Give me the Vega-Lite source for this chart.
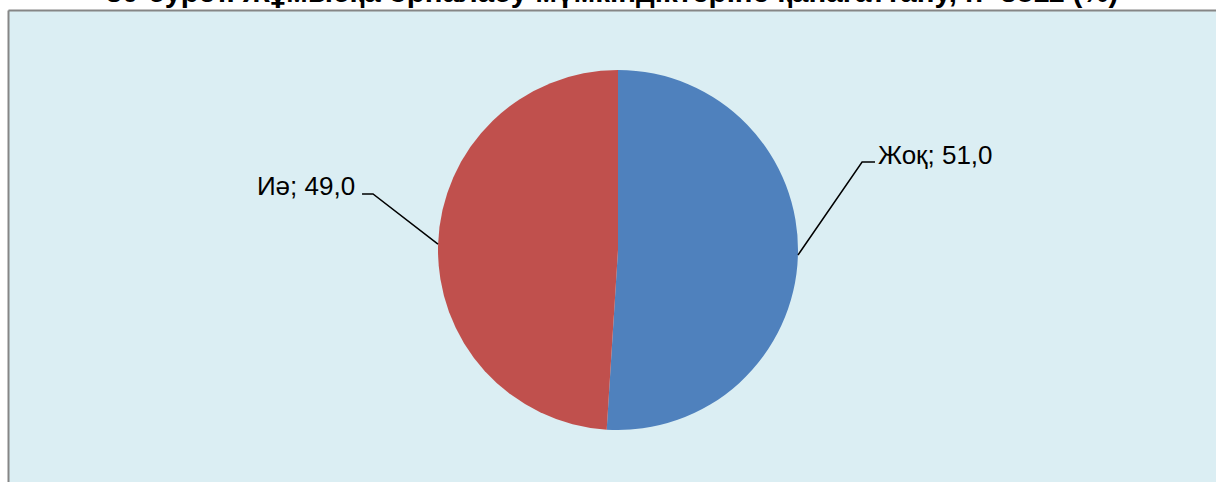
{
  "$schema": "https://vega.github.io/schema/vega-lite/v6.json",
  "width": 1208,
  "height": 472,
  "autosize": {"type": "none"},
  "padding": {"left": 8, "top": 10, "right": 0, "bottom": 0},
  "background": "white",
  "title": {
    "text": "30-сурет. Жұмысқа орналасу мүмкіндіктеріне қанағаттану, n=3811 (%)",
    "font": "Liberation Sans",
    "fontSize": 29.5,
    "fontWeight": "bold",
    "color": "black",
    "baseline": "alphabetic",
    "offset": -21
  },
  "config": {"view": {"fill": "#DBEEF3", "stroke": null}},
  "datasets": {
    "slices": [
      {"answer": "Жоқ", "value": 51.0, "ord": 1},
      {"answer": "Иә", "value": 49.0, "ord": 2}
    ],
    "leaders": [
      {"answer": "Жоқ", "k": 1, "px": 1.0, "py": -0.028},
      {"answer": "Жоқ", "k": 2, "px": 1.356, "py": 0.489},
      {"answer": "Жоқ", "k": 3, "px": 1.428, "py": 0.489},
      {"answer": "Иә", "k": 1, "px": -1.0, "py": 0.033},
      {"answer": "Иә", "k": 2, "px": -1.361, "py": 0.311},
      {"answer": "Иә", "k": 3, "px": -1.422, "py": 0.311}
    ],
    "labels": [
      {"label": "Жоқ; 51,0", "lx": 1.444, "ly": 0.476},
      {"label": "Иә; 49,0", "lx": -2.006, "ly": 0.306}
    ]
  },
  "layer": [
    {
      "data": {"name": "slices"},
      "mark": {"type": "arc", "radius": 180},
      "encoding": {
        "theta": {"field": "value", "type": "quantitative", "stack": true},
        "order": {"field": "ord", "type": "quantitative"},
        "color": {
          "field": "answer",
          "type": "nominal",
          "scale": {"domain": ["Жоқ", "Иә"], "range": ["#4F81BD", "#C0504D"]},
          "legend": null
        },
        "x": {
          "datum": 0,
          "type": "quantitative",
          "scale": {"domain": [-3.38889, 3.32222], "nice": false, "zero": false},
          "axis": {"orient": "top", "domain": true, "domainColor": "#868686", "domainWidth": 2, "ticks": false, "labels": false, "grid": false, "title": null}
        },
        "y": {
          "datum": 0,
          "type": "quantitative",
          "scale": {"domain": [-1.28889, 1.33333], "nice": false, "zero": false},
          "axis": {"orient": "left", "domain": true, "domainColor": "#868686", "domainWidth": 2, "ticks": false, "labels": false, "grid": false, "title": null}
        }
      }
    },
    {
      "data": {"name": "leaders"},
      "mark": {"type": "line", "color": "black", "strokeWidth": 1.5},
      "encoding": {
        "x": {"field": "px", "type": "quantitative"},
        "y": {"field": "py", "type": "quantitative"},
        "detail": {"field": "answer"},
        "order": {"field": "k", "type": "quantitative"}
      }
    },
    {
      "data": {"name": "labels"},
      "mark": {"type": "text", "align": "left", "baseline": "alphabetic", "font": "Liberation Sans", "fontSize": 26, "color": "black"},
      "encoding": {
        "x": {"field": "lx", "type": "quantitative"},
        "y": {"field": "ly", "type": "quantitative"},
        "text": {"field": "label"}
      }
    }
  ]
}
